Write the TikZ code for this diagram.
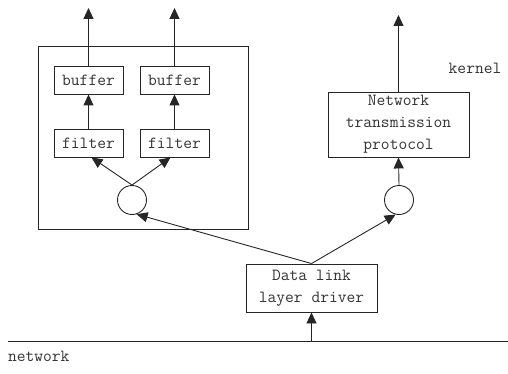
\documentclass[tikz,border=0pt]{standalone}
\usetikzlibrary{arrows.meta}

\begin{document}
\begin{tikzpicture}[x=1pt, y=-1pt,
        every node/.style={font=\fontsize{17}{22}\selectfont\ttfamily, text=black!80},
        box/.style={draw=black!85, line width=0.9pt, inner sep=0pt, align=center},
        ring/.style={draw=black!85, line width=0.9pt, circle, minimum size=29pt, inner sep=0pt},
        link/.style={draw=black!85, line width=0.9pt, -{Triangle[length=11pt, width=10pt]}}]
        \useasboundingbox (0,0) rectangle (508,374);
        \node[box, minimum width=210pt, minimum height=183pt] (kbox) at (143,137.5) {};
        \node[box, minimum width=69pt, minimum height=28pt] (bufL) at (88.5,80) {buffer};
        \node[box, minimum width=69pt, minimum height=28pt] (bufR) at (174.5,80) {buffer};
        \node[box, minimum width=69pt, minimum height=28pt] (filL) at (88.5,143) {filter};
        \node[box, minimum width=69pt, minimum height=28pt] (filR) at (174.5,143) {filter};
        \node[ring] (circL) at (132,200) {};
        \node[ring] (circR) at (399,200) {};
        \node[box, minimum width=141pt, minimum height=65pt] (ntp) at (398.5,124.5) {Network\\transmission\\protocol};
        \node[box, minimum width=131pt, minimum height=48pt] (dl) at (311.5,288) {Data link\\layer driver};
        \node (kern) at (475,68) {kernel};
        \node[anchor=west, inner sep=0pt] (net) at (8,356) {network};
        \coordinate (outL) at (88.5,8);
        \coordinate (outR) at (174.5,8);
        \coordinate (outN) at (398.5,15);
        \coordinate (lineA) at (8,341);
        \coordinate (lineB) at (508,341);
        \coordinate (tap) at (311.5,341);
        \draw[black!85, line width=0.9pt] (lineA) -- (lineB);
        \draw[link] (tap) -- (dl.south);
        \draw[link] (dl.north) -- (circL.-72);
        \draw[link] (dl.north) -- (circR.-103);
        \draw[link] (circL.north) -- ([xshift=3pt]filL.south);
        \draw[link] (circL.north) -- ([xshift=-4pt]filR.south);
        \draw[link] (filL.north) -- (bufL.south);
        \draw[link] (filR.north) -- (bufR.south);
        \draw[link] (bufL.north) -- (outL);
        \draw[link] (bufR.north) -- (outR);
        \draw[link] (circR.north) -- (ntp.south);
        \draw[link] (ntp.north) -- (outN);
\end{tikzpicture}
\end{document}
